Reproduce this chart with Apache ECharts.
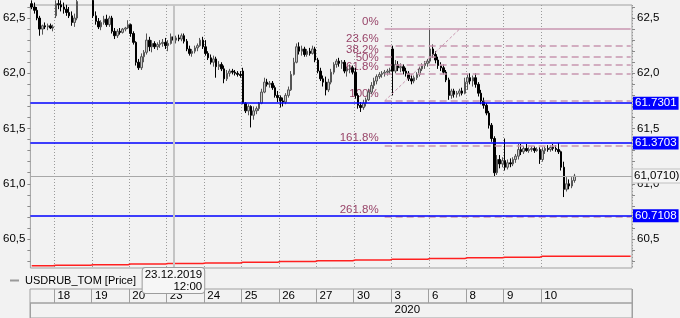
<!DOCTYPE html>
<html><head><meta charset="utf-8">
<script src="https://cdn.jsdelivr.net/npm/echarts@6/dist/echarts.min.js"></script>
<style>html,body{margin:0;padding:0;background:#f2f2f2}#c{width:680px;height:318px}</style>
</head><body><div id="c"></div>
<script>
// ---- data ----
const dayLabels = ['17','18','19','20','23','24','25','26','27','30','3','6','8','9','10'];
const dayDates = ['17.12.2019','18.12.2019','19.12.2019','20.12.2019','23.12.2019','24.12.2019','25.12.2019','26.12.2019','27.12.2019','30.12.2019','03.01.2020','06.01.2020','08.01.2020','09.01.2020','10.01.2020'];
const hours = ['10:00','11:00','12:00','13:00','14:00','15:00','16:00','17:00','18:00','19:00','20:00','21:00','22:00','23:00'];
const firstHourIdx = [5,0,0,0,0,0,0,0,0,0,0,0,0,0,0];
const futureSlots = 20;
// hourly candles [open, high, low, close]
const ohlc = [
// 17.12
[62.63,62.66,62.58,62.60],[62.60,62.64,62.54,62.57],[62.57,62.60,62.48,62.50],[62.50,62.52,62.34,62.40],[62.40,62.44,62.35,62.43],[62.43,62.46,62.40,62.42],[62.42,62.45,62.39,62.43],[62.43,62.45,62.40,62.41],[62.41,62.44,62.38,62.42],
// 18.12
[62.52,62.66,62.50,62.63],[62.63,62.68,62.58,62.62],[62.62,62.66,62.56,62.60],[62.60,62.64,62.54,62.58],[62.58,62.62,62.52,62.55],[62.55,62.60,62.50,62.52],[62.52,62.56,62.43,62.46],[62.46,62.54,62.42,62.50],[62.50,62.68,62.48,62.65],[62.65,62.72,62.63,62.68],[62.68,62.74,62.65,62.70],[62.70,62.75,62.66,62.69],[62.69,62.73,62.65,62.67],[62.67,62.72,62.64,62.66],
// 19.12
[62.66,62.68,62.50,62.52],[62.52,62.56,62.44,62.47],[62.47,62.50,62.40,62.42],[62.42,62.48,62.39,62.46],[62.46,62.52,62.44,62.49],[62.49,62.53,62.42,62.44],[62.44,62.52,62.42,62.50],[62.50,62.52,62.36,62.38],[62.38,62.41,62.31,62.34],[62.34,62.40,62.32,62.38],[62.38,62.41,62.35,62.37],[62.37,62.41,62.36,62.40],[62.40,62.42,62.38,62.41],[62.41,62.48,62.40,62.44],
// 20.12
[62.44,62.45,62.33,62.36],[62.36,62.38,62.26,62.28],[62.28,62.29,62.07,62.10],[62.10,62.13,62.03,62.05],[62.05,62.18,62.03,62.15],[62.15,62.21,62.10,62.19],[62.19,62.36,62.17,62.30],[62.30,62.33,62.20,62.24],[62.24,62.30,62.19,62.27],[62.27,62.29,62.22,62.24],[62.24,62.28,62.21,62.26],[62.26,62.30,62.23,62.27],[62.27,62.31,62.24,62.28],[62.28,62.32,62.22,62.25],
// 23.12
[62.25,62.30,62.20,62.27],[62.27,62.36,62.26,62.33],[62.33,62.36,62.28,62.30],[62.30,62.34,62.27,62.32],[62.32,62.35,62.29,62.31],[62.31,62.36,62.29,62.34],[62.34,62.36,62.27,62.29],[62.29,62.31,62.20,62.22],[62.22,62.25,62.16,62.18],[62.18,62.22,62.15,62.20],[62.20,62.25,62.18,62.23],[62.23,62.27,62.20,62.25],[62.25,62.32,62.24,62.30],[62.30,62.33,62.22,62.24],
// 24.12
[62.24,62.30,62.16,62.18],[62.18,62.20,62.12,62.14],[62.14,62.17,62.08,62.10],[62.10,62.16,62.06,62.13],[62.13,62.15,61.96,62.06],[62.06,62.11,62.03,62.08],[62.08,62.10,62.02,62.04],[62.04,62.07,61.91,61.95],[61.95,62.03,61.93,62.00],[62.00,62.04,61.97,62.02],[62.02,62.04,61.99,62.01],[62.01,62.03,61.98,62.00],[62.00,62.02,61.97,61.99],[61.99,62.02,61.96,61.98],
// 25.12
[62.02,62.05,61.72,61.73],[61.73,61.74,61.64,61.66],[61.66,61.72,61.62,61.70],[61.70,61.71,61.51,61.62],[61.62,61.70,61.58,61.66],[61.66,61.70,61.63,61.68],[61.68,61.74,61.66,61.73],[61.73,61.86,61.72,61.83],[61.83,61.96,61.82,61.92],[61.92,61.95,61.88,61.90],[61.90,61.93,61.87,61.91],[61.91,61.93,61.85,61.87],[61.87,61.89,61.78,61.80],[61.80,61.84,61.74,61.78],
// 26.12
[61.78,61.80,61.69,61.75],[61.75,61.78,61.70,61.74],[61.74,61.82,61.72,61.80],[61.80,61.88,61.78,61.85],[61.85,62.02,61.84,61.99],[61.99,62.14,61.98,62.10],[62.10,62.27,62.09,62.24],[62.24,62.28,62.17,62.20],[62.20,62.25,62.16,62.22],[62.22,62.24,62.15,62.17],[62.17,62.22,62.15,62.20],[62.20,62.23,62.16,62.18],[62.18,62.25,62.17,62.22],[62.22,62.24,62.10,62.12],
// 27.12
[62.12,62.14,62.00,62.02],[62.02,62.05,61.93,61.95],[61.95,61.98,61.88,61.92],[61.92,61.97,61.80,61.85],[61.85,61.95,61.83,61.92],[61.92,62.04,61.90,62.01],[62.01,62.10,61.99,62.08],[62.08,62.13,62.05,62.11],[62.11,62.14,62.06,62.09],[62.09,62.12,62.04,62.10],[62.10,62.12,62.00,62.02],[62.02,62.06,61.97,62.04],[62.04,62.08,62.00,62.05],[62.05,62.07,61.99,62.01],
// 30.12
[62.01,62.05,61.77,61.80],[61.80,61.82,61.68,61.71],[61.71,61.74,61.65,61.69],[61.69,61.76,61.67,61.73],[61.73,61.78,61.70,61.76],[61.76,61.86,61.75,61.83],[61.83,61.92,61.81,61.89],[61.89,61.96,61.86,61.93],[61.93,61.99,61.90,61.97],[61.97,62.01,61.95,61.99],[61.99,62.02,61.96,62.00],[62.00,62.03,61.97,62.01],[62.01,62.04,61.98,62.02],[62.02,62.05,61.99,62.03],
// 03.01
[62.22,62.25,61.80,62.02],[62.02,62.12,62.00,62.08],[62.08,62.11,62.02,62.05],[62.05,62.09,62.01,62.06],[62.06,62.08,61.99,62.02],[62.02,62.05,61.97,62.00],[62.00,62.02,61.93,61.95],[61.95,61.99,61.90,61.93],[61.93,61.98,61.91,61.96],[61.96,62.01,61.94,61.99],[61.99,62.06,61.97,62.04],[62.04,62.09,62.02,62.07],[62.07,62.11,62.04,62.09],[62.09,62.13,62.06,62.11],
// 06.01
[62.11,62.41,62.09,62.22],[62.22,62.26,62.14,62.17],[62.17,62.20,62.09,62.12],[62.12,62.15,62.04,62.07],[62.07,62.10,62.02,62.05],[62.05,62.08,61.99,62.01],[62.01,62.03,61.92,61.94],[61.94,61.96,61.76,61.80],[61.80,61.86,61.77,61.84],[61.84,61.86,61.78,61.81],[61.81,61.84,61.78,61.82],[61.82,61.86,61.79,61.84],[61.84,61.87,61.80,61.82],[61.82,61.96,61.81,61.92],
// 08.01
[61.92,61.99,61.85,61.96],[61.96,62.00,61.90,61.93],[61.93,61.98,61.88,61.96],[61.96,62.00,61.87,61.90],[61.90,61.92,61.79,61.82],[61.82,61.85,61.72,61.75],[61.75,61.78,61.68,61.71],[61.71,61.73,61.62,61.64],[61.64,61.66,61.50,61.53],[61.53,61.55,61.38,61.41],[61.41,61.43,61.07,61.10],[61.10,61.26,61.08,61.22],[61.22,61.26,61.14,61.18],[61.18,61.24,61.15,61.21],
// 09.01
[61.21,61.41,61.12,61.15],[61.15,61.22,61.13,61.19],[61.19,61.23,61.15,61.18],[61.18,61.24,61.16,61.22],[61.22,61.27,61.19,61.25],[61.25,61.36,61.22,61.31],[61.31,61.36,61.26,61.29],[61.29,61.34,61.27,61.32],[61.32,61.36,61.29,61.30],[61.30,61.33,61.28,61.31],[61.31,61.34,61.29,61.32],[61.32,61.34,61.28,61.30],[61.30,61.33,61.29,61.31],[61.31,61.33,61.18,61.22],
// 10.01
[61.22,61.33,61.20,61.30],[61.30,61.34,61.27,61.32],[61.32,61.35,61.29,61.31],[61.31,61.35,61.29,61.33],[61.33,61.36,61.30,61.32],[61.32,61.35,61.29,61.31],[61.31,61.37,61.27,61.29],[61.29,61.30,61.12,61.15],[61.15,61.20,60.88,60.95],[60.95,61.06,60.93,61.00],[61.00,61.04,60.95,60.98],[60.98,61.06,60.96,61.03],[61.03,61.09,61.01,61.07]
];
// red line: one value per trading day
const redByDay = [60.258,60.263,60.268,60.274,60.279,60.284,60.290,60.297,60.303,60.310,60.318,60.324,60.330,60.336,60.344];
// horizontal levels
const blueLevels = [61.7301, 61.3703, 60.7108];
const lastPrice = 61.0710;
// fibonacci retracement
const fibHigh = 62.40, fibLow = 61.75;
const fibRatios = [0, 0.236, 0.382, 0.5, 0.618, 1, 1.618, 2.618];
const fibLabels = ['0%','23.6%','38.2%','50%','61.8%','100%','161.8%','261.8%'];
const fibStartSlot = '30.12.2019 21:00', fibDiagEndSlot = '06.01.2020 21:00';
const crosshairSlot = '23.12.2019 12:00';
// axis ticks
const yLabelVals = [60.5, 61.0, 61.5, 62.0, 62.5];
const yTickVals = [60.3,60.4,60.5,60.6,60.7,60.8,60.9,61.0,61.1,61.2,61.3,61.4,61.5,61.6,61.7,61.8,61.9,62.0,62.1,62.2,62.3,62.4,62.5,62.6];
const yMin = 60.238, yMax = 62.618;

// ---- build ----
const cats = [], slotDay = [], dayStart = new Set();
dayLabels.forEach((d, di) => {
  dayStart.add(cats.length);
  for (let h = firstHourIdx[di]; h < hours.length; h++) { cats.push(dayDates[di] + ' ' + hours[h]); slotDay.push(di); }
});
const lastDay = dayLabels.length - 1;
for (let k = 1; k <= futureSlots; k++) { cats.push(dayDates[lastDay] + ' +' + k); slotDay.push(lastDay); }
const candleData = cats.map((c, i) => ohlc[i] ? [ohlc[i][0], ohlc[i][3], ohlc[i][2], ohlc[i][1]] : '-');
const redData = slotDay.map(di => redByDay[di]);
const yearStart = cats.findIndex(c => c.slice(6, 10) === '2020');
const lastIdx = cats.length - 1;
const fibStart = cats.indexOf(fibStartSlot), fibDiagEnd = cats.indexOf(fibDiagEndSlot);
const fibLevels = fibRatios.map(r => fibHigh - r * (fibHigh - fibLow));
const fmtComma = v => v.toFixed(1).replace('.', ',');
const isLabelledDay = (i) => i > 0 && dayStart.has(i);
const FONT = '"Liberation Sans", Arial, sans-serif';
const fibLineColor = '#c896b0';

const chart = echarts.init(document.getElementById('c'), null, {renderer: 'canvas'});
chart.setOption({
  animation: false,
  backgroundColor: '#f2f2f2',
  textStyle: {fontFamily: FONT},
  legend: {
    data: ['USDRUB_TOM [Price]'], left: 10, top: 275, padding: 0, icon: 'rect', itemWidth: 9, itemHeight: 2, itemGap: 0,
    itemStyle: {color: '#9a9a9a', borderWidth: 0}, textStyle: {fontSize: 11, color: '#000', fontFamily: FONT, padding: [0, 0, 0, 1]}
  },
  grid: [
    {left: 30, right: 48, top: 5, height: 263, show: true, borderColor: '#a0a0a0', borderWidth: 1, backgroundColor: 'transparent'},
    {left: 30, right: 48, top: 289, height: 14, show: true, borderColor: '#a0a0a0', borderWidth: 1},
    {left: 30, right: 48, top: 303, height: 16, show: true, borderColor: '#a0a0a0', borderWidth: 1}
  ],
  xAxis: [
    {gridIndex: 0, type: 'category', data: cats, boundaryGap: true,
     axisLine: {show: false}, axisTick: {show: false}, axisLabel: {show: false},
     splitLine: {show: true, interval: isLabelledDay, lineStyle: {color: '#9a9a9a', type: [1, 2], width: 1}},
     axisPointer: {show: true, type: 'line', status: 'show', value: cats.indexOf(crosshairSlot), triggerTooltip: false,
       lineStyle: {color: '#c4c4c4', width: 2, type: 'solid'},
       label: {show: true, margin: 0, padding: [1, 2, 0, 2], backgroundColor: '#f6f6f6', borderColor: '#9c9c9c', borderWidth: 1,
         color: '#000', fontSize: 11.5, fontFamily: FONT, lineHeight: 12,
         formatter: (p) => { const name = typeof p.value === 'number' ? cats[p.value] : p.value; const parts = name.split(' '); return parts[0] + '\n         ' + parts[1]; }}}},
    {gridIndex: 1, type: 'category', data: cats, boundaryGap: true,
     axisLine: {show: false}, axisTick: {show: false},
     axisLabel: {show: true, inside: true, interval: isLabelledDay, formatter: (v) => String(parseInt(v.slice(0, 2), 10)),
       align: 'left', padding: [0, 0, 0, 2], margin: 1, fontSize: 11.5, color: '#000'},
     splitLine: {show: true, interval: isLabelledDay, lineStyle: {color: '#a0a0a0', width: 1}}},
    {gridIndex: 2, type: 'category', data: cats, boundaryGap: true,
     axisLine: {show: false}, axisTick: {show: false},
     axisLabel: {show: true, inside: true, interval: (i) => i === yearStart, formatter: (v) => v.slice(6, 10),
       align: 'left', padding: [0, 0, 0, 2], margin: 2, fontSize: 11.5, color: '#000'},
     splitLine: {show: true, interval: (i) => i === yearStart, lineStyle: {color: '#a0a0a0', width: 1}}}
  ],
  yAxis: [
    {gridIndex: 0, type: 'value', min: yMin, max: yMax, position: 'left', axisLine: {show: false}, splitLine: {show: false},
     axisTick: {show: true, customValues: yTickVals, length: 3, lineStyle: {color: '#8a8a8a'}},
     axisLabel: {customValues: yLabelVals, formatter: fmtComma, margin: 5, color: '#000', fontSize: 11.5}},
    {gridIndex: 0, type: 'value', min: yMin, max: yMax, position: 'right', axisLine: {show: false}, splitLine: {show: false},
     axisTick: {show: true, customValues: yTickVals, length: 3, lineStyle: {color: '#8a8a8a'}},
     axisLabel: {customValues: yLabelVals, formatter: fmtComma, margin: 5, color: '#000', fontSize: 11.5}},
    {gridIndex: 1, type: 'value', show: false, min: 0, max: 1},
    {gridIndex: 2, type: 'value', show: false, min: 0, max: 1}
  ],
  series: [
    {name: 'red', type: 'line', xAxisIndex: 0, yAxisIndex: 0, data: redData, step: 'start', showSymbol: false, symbol: 'none',
     lineStyle: {color: '#ff2020', width: 1.5}, silent: true, z: 2},
    {name: 'fib', type: 'scatter', xAxisIndex: 0, yAxisIndex: 0, symbolSize: 0, silent: true, z: 3,
     data: fibLevels.map((lv, k) => [fibStart, lv, fibLabels[k]]),
     label: {show: true, position: 'left', distance: 6, offset: [0, -7], formatter: (p) => p.data[2], color: '#7d1040', fontSize: 11.5, fontFamily: FONT},
     markLine: {symbol: 'none', silent: true, animation: false, label: {show: false},
       data: fibLevels.map((lv, k) => [
         {coord: [fibStart, lv], lineStyle: {color: fibLineColor, width: 1.5, type: k === 0 ? 'solid' : [7, 4]}},
         {coord: [lastIdx, lv]}
       ]).concat([[
         {coord: [fibStart, fibLow], lineStyle: {color: fibLineColor, width: 1, type: [3, 2]}},
         {coord: [fibDiagEnd, fibHigh]}
       ]])}},
    {name: 'USDRUB_TOM [Price]', type: 'candlestick', xAxisIndex: 0, yAxisIndex: 0, data: candleData, barWidth: 2, z: 4,
     itemStyle: {color: '#c8c8c8', color0: '#000000', borderColor: '#555555', borderColor0: '#000000', borderWidth: 1},
     markLine: {symbol: 'none', silent: true, animation: false,
       data: blueLevels.map(v => ({yAxis: v, lineStyle: {color: '#0000ff', width: 1.5, type: 'solid'},
         label: {show: true, position: 'end', formatter: v.toFixed(4), backgroundColor: '#0000ff', color: '#fff', padding: [1, 2, 0, 2], distance: 1, fontSize: 11.5, fontFamily: FONT}}))
       .concat([{yAxis: lastPrice, lineStyle: {color: '#a8a8a8', width: 1, type: 'solid'},
         label: {show: true, position: 'end', formatter: lastPrice.toFixed(4).replace('.', ',') + ')', backgroundColor: '#f6f6f6', borderColor: '#c0c0c0', borderWidth: 1, color: '#000', padding: [1, 1, 0, 1], distance: 1, fontSize: 11.5, fontFamily: FONT}}])}}
  ]
});
</script></body></html>
